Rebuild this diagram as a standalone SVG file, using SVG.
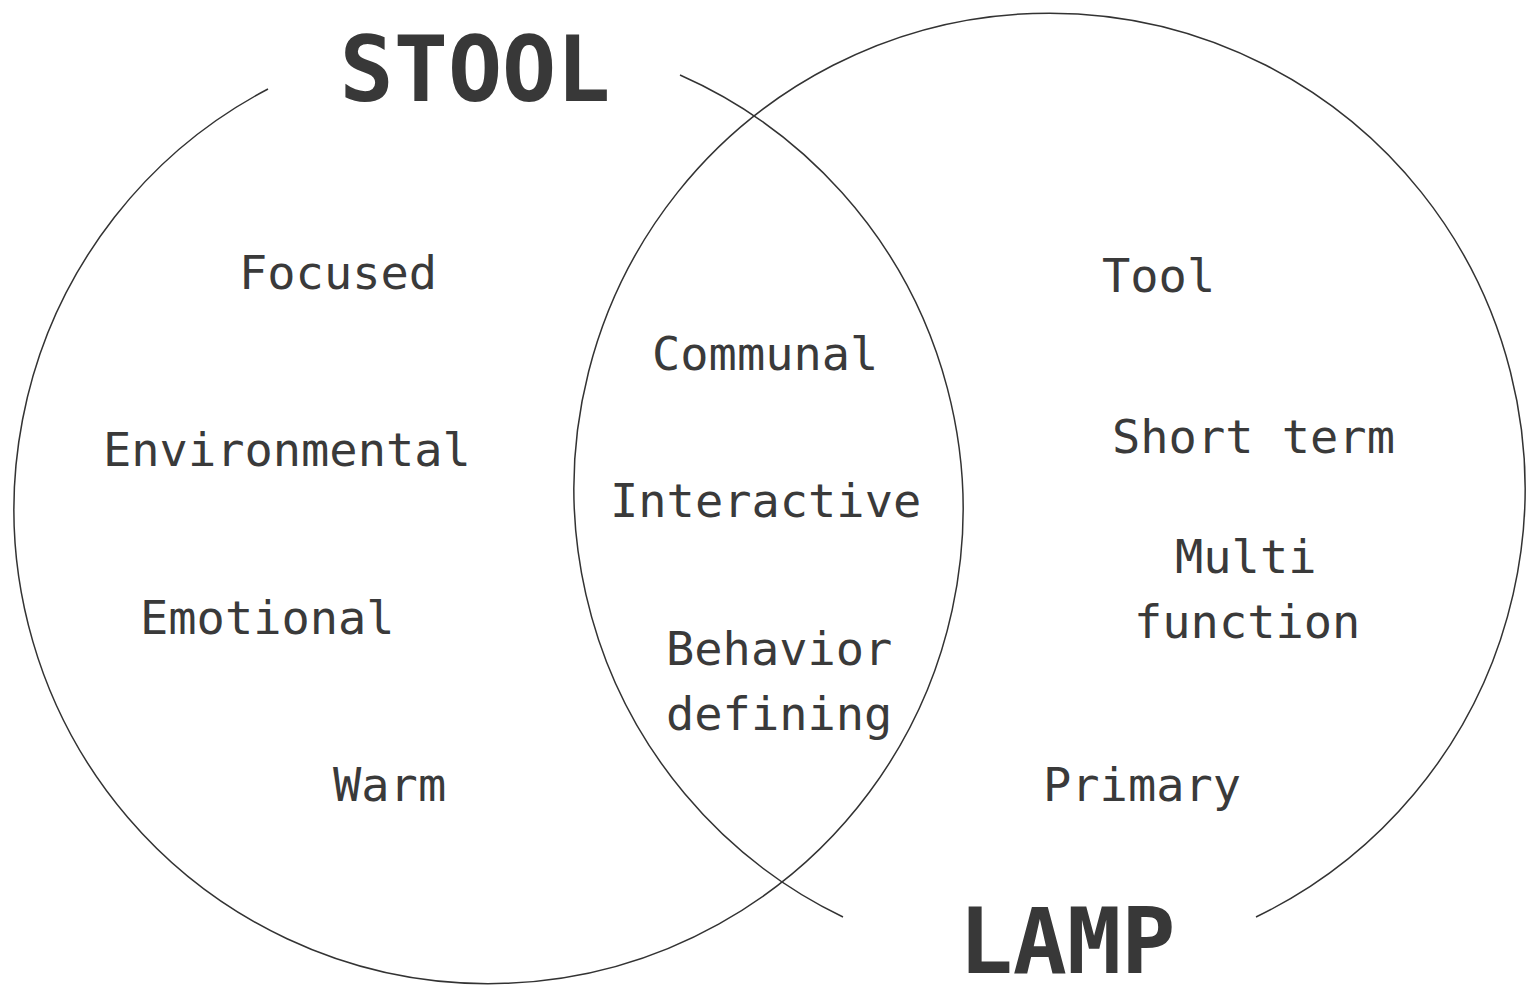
<svg xmlns="http://www.w3.org/2000/svg" width="1537" height="995" viewBox="0 0 1537 995">
<style>
.c{fill:none;stroke:#333;stroke-width:1.5}
.t{font-family:"DejaVu Sans Mono","Liberation Mono",monospace;font-size:47px;fill:#3a3a3a}
.h{font-family:"DejaVu Sans Mono","Liberation Mono",monospace;font-size:90px;font-weight:bold;fill:#383838;text-anchor:middle}
</style>
<rect width="1537" height="995" fill="#fff"/>
<g id="connectors">
<path id="stool-circle" class="c" d="M680,75 A474.5,474.5 0 1 1 268,89"/>
<path id="lamp-circle" class="c" d="M843,917 A475.5,475.5 0 1 1 1256,917"/>
</g>
<g id="stool-title"><text class="h" x="475" y="101">STOOL</text></g>
<g id="lamp-title"><text class="h" x="1067" y="973">LAMP</text></g>
<g id="focused"><text class="t" x="239" y="289">Focused</text></g>
<g id="environmental"><text class="t" x="103" y="466">Environmental</text></g>
<g id="emotional"><text class="t" x="140" y="634">Emotional</text></g>
<g id="warm"><text class="t" x="333" y="801">Warm</text></g>
<g id="communal"><text class="t" x="652" y="370">Communal</text></g>
<g id="interactive"><text class="t" x="610" y="517">Interactive</text></g>
<g id="behavior-defining"><text class="t" x="666" y="665">Behavior</text><text class="t" x="666" y="730">defining</text></g>
<g id="tool"><text class="t" x="1102" y="292">Tool</text></g>
<g id="short-term"><text class="t" x="1112" y="453">Short term</text></g>
<g id="multi-function"><text class="t" x="1175" y="573">Multi</text><text class="t" x="1134" y="638">function</text></g>
<g id="primary"><text class="t" x="1043" y="801">Primary</text></g>
</svg>
